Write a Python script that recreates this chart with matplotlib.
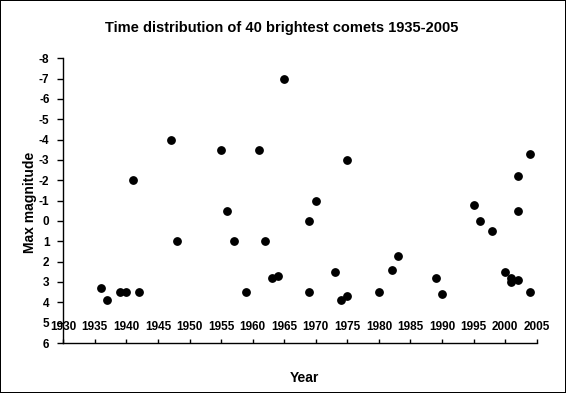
import matplotlib.pyplot as plt
import numpy as np

years = np.array([1936, 1937, 1939, 1940, 1941, 1942, 1947, 1948, 1955, 1956,
                  1957, 1959, 1961, 1962, 1963, 1964, 1965, 1969, 1969, 1970,
                  1975, 1973, 1974, 1975, 1980, 1982, 1983, 1989, 1990, 1995,
                  1996, 1998, 2000, 2001, 2001, 2002, 2002, 2002, 2004, 2004])
max_mag = np.array([3.3, 3.9, 3.5, 3.5, -2.0, 3.5, -4.0, 1.0, -3.5, -0.5,
                    1.0, 3.5, -3.5, 1.0, 2.8, 2.7, -7.0, 0.0, 3.5, -1.0,
                    -3.0, 2.5, 3.9, 3.7, 3.5, 2.4, 1.7, 2.8, 3.6, -0.8,
                    0.0, 0.5, 2.5, 2.8, 3.0, 2.9, -2.2, -0.5, -3.3, 3.5])

xticks = np.arange(1930, 2006, 5)
yticks = np.arange(-8, 7, 1)

narrow = ['Liberation Sans Narrow', 'Liberation Sans', 'DejaVu Sans']
plt.rcParams['font.family'] = ['Liberation Sans', 'DejaVu Sans']

fig = plt.figure(figsize=(5.66, 3.93), dpi=100, linewidth=1.2, edgecolor='black')
ax = fig.add_axes([0.1118, 0.1272, 0.8364, 0.7245])

ax.plot(years, max_mag, 'o', color='black', markersize=5.3)

ax.set_xlim(1930, 2005)
ax.set_ylim(6, -8)
ax.set_xticks(xticks)
ax.set_yticks(yticks)
ax.set_xticklabels([str(v) for v in xticks], family=narrow, fontweight='bold', fontsize=8.5)
ax.set_yticklabels([str(v) for v in yticks], family=narrow, fontweight='bold', fontsize=8.5)

ax.spines['top'].set_visible(False)
ax.spines['right'].set_visible(False)
ax.spines['left'].set_linewidth(1)
ax.spines['bottom'].set_linewidth(1)
ax.tick_params(axis='x', direction='in', length=3, width=1, pad=-16)
ax.tick_params(axis='y', direction='out', length=4, width=1, pad=6)

ax.set_xlabel('Year', fontweight='bold', fontsize=10)
ax.xaxis.set_label_coords(0.5095, -0.123)
ax.xaxis.label.set_va('center')
ax.set_ylabel('Max magnitude', fontweight='bold', fontsize=10)
ax.yaxis.set_label_coords(-0.07, 0.495)
ax.yaxis.label.set_va('center')

fig.text(0.498, 0.9287, 'Time distribution of 40 brightest comets 1935-2005',
         ha='center', va='center', fontweight='bold', fontsize=10.5)

fig.savefig('out.png', dpi=100)
